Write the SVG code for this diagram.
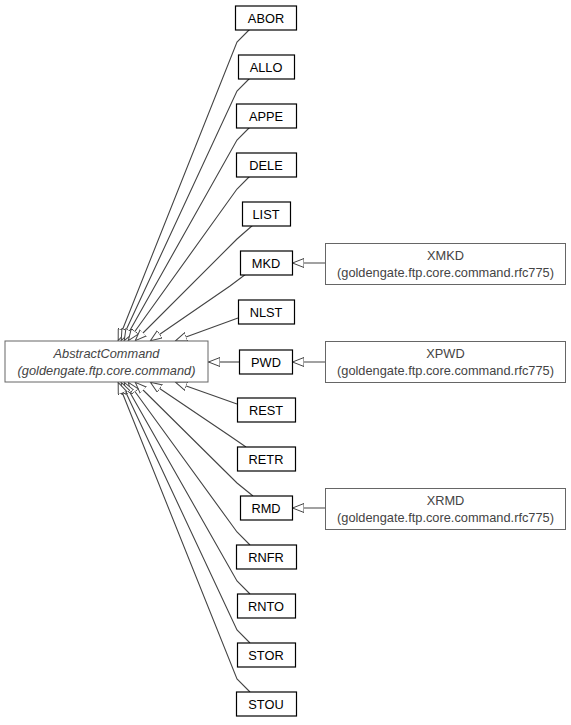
<svg xmlns="http://www.w3.org/2000/svg" width="571" height="725" viewBox="0 0 571 725">
<defs>
<style>
.n rect{fill:#fff;stroke:#000;stroke-width:1.2}
.g rect{fill:#fff;stroke:#666;stroke-width:1}
text{font-family:"Liberation Sans",Arial,sans-serif;font-size:12.8px;text-anchor:middle}
.n text{fill:#000}
.g text{fill:#444}
.i text{font-style:italic}
#edges path{fill:none;stroke:#444;stroke-width:1.1;marker-end:url(#tri)}
</style>
<marker id="tri" viewBox="0 -5 12 10" refX="12" refY="0" markerWidth="12" markerHeight="10" markerUnits="userSpaceOnUse" orient="auto">
<path d="M0,-4.5 L11.5,0 L0,4.5 Z" fill="#fff" stroke="#444" stroke-width="1"/>
</marker>
</defs>
<rect width="571" height="725" fill="#fff"/>
<g id="edges">
<path d="M250,29 L237,42 L118,341"/>
<path d="M250,78 L237,91 L121,341"/>
<path d="M250,127 L237,140 L124,341"/>
<path d="M250,176 L237,189 L128,341"/>
<path d="M253,225 L237,239 L135,341"/>
<path d="M246,274 L230,286 L150,341"/>
<path d="M238,318 L175,341"/>
<path d="M239,362 L208,362"/>
<path d="M237,404 L175,382"/>
<path d="M246,447 L230,436 L150,382"/>
<path d="M253,496 L237,483 L135,382"/>
<path d="M250,545 L237,532 L128,382"/>
<path d="M250,594 L237,581 L124,382"/>
<path d="M250,643 L237,630 L121,382"/>
<path d="M250,692 L237,679 L118,382"/>
<path d="M325,263 L292,263"/>
<path d="M325,362 L292,362"/>
<path d="M325,508 L292,508"/>
</g>
<g id="AbstractCommand" class="g i"><rect x="5" y="341" width="203" height="41"/><text x="106.5" y="358">AbstractCommand</text><text x="106.5" y="375">(goldengate.ftp.core.command)</text></g>
<g id="ABOR" class="n"><rect x="235.5" y="6" width="61" height="24"/><text x="266" y="22.5">ABOR</text></g>
<g id="ALLO" class="n"><rect x="238.5" y="55" width="56" height="24"/><text x="266" y="71.5">ALLO</text></g>
<g id="APPE" class="n"><rect x="236.5" y="104" width="60" height="24"/><text x="266" y="120.5">APPE</text></g>
<g id="DELE" class="n"><rect x="236.5" y="153" width="60" height="24"/><text x="266" y="169.5">DELE</text></g>
<g id="LIST" class="n"><rect x="242.5" y="202" width="48" height="24"/><text x="266" y="218.5">LIST</text></g>
<g id="MKD" class="n"><rect x="240.5" y="251" width="52" height="24"/><text x="266" y="267.5">MKD</text></g>
<g id="NLST" class="n"><rect x="238.5" y="300" width="56" height="24"/><text x="266" y="316.5">NLST</text></g>
<g id="PWD" class="n"><rect x="239.5" y="350" width="53" height="24"/><text x="266" y="366.5">PWD</text></g>
<g id="REST" class="n"><rect x="237.5" y="398" width="58" height="24"/><text x="266" y="414.5">REST</text></g>
<g id="RETR" class="n"><rect x="237.5" y="447" width="58" height="24"/><text x="266" y="463.5">RETR</text></g>
<g id="RMD" class="n"><rect x="240.5" y="496" width="52" height="24"/><text x="266" y="512.5">RMD</text></g>
<g id="RNFR" class="n"><rect x="236.5" y="545" width="60" height="24"/><text x="266" y="561.5">RNFR</text></g>
<g id="RNTO" class="n"><rect x="237.5" y="594" width="58" height="24"/><text x="266" y="610.5">RNTO</text></g>
<g id="STOR" class="n"><rect x="237.5" y="643" width="58" height="24"/><text x="266" y="659.5">STOR</text></g>
<g id="STOU" class="n"><rect x="236.5" y="692" width="60" height="24"/><text x="266" y="708.5">STOU</text></g>
<g id="XMKD" class="g"><rect x="325.5" y="243.5" width="240" height="41"/><text x="445.5" y="260">XMKD</text><text x="445.5" y="277">(goldengate.ftp.core.command.rfc775)</text></g>
<g id="XPWD" class="g"><rect x="325.5" y="341.5" width="240" height="41"/><text x="445.5" y="358">XPWD</text><text x="445.5" y="375">(goldengate.ftp.core.command.rfc775)</text></g>
<g id="XRMD" class="g"><rect x="325.5" y="488.5" width="240" height="41"/><text x="445.5" y="505">XRMD</text><text x="445.5" y="522">(goldengate.ftp.core.command.rfc775)</text></g>
</svg>
